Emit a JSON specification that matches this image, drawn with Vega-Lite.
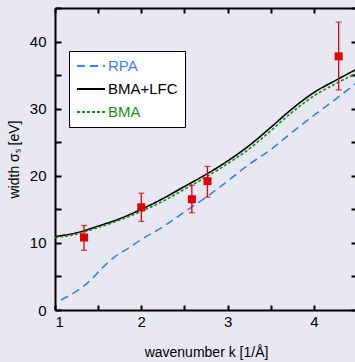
{
  "$schema": "https://vega.github.io/schema/vega-lite/v6.json",
  "autosize": "none",
  "width": 302,
  "height": 302,
  "padding": {"left": 55, "top": 8, "right": 0, "bottom": 52},
  "background": "#e8e8f2",
  "config": {
    "view": {"stroke": null, "fill": "#e8e8f2"},
    "font": "Liberation Sans",
    "axis": {
      "domainColor": "black", "domainWidth": 2,
      "grid": false, "labelFont": "Liberation Sans", "labelFontSize": 15, "labelColor": "black",
      "titleFont": "Liberation Sans", "titleFontSize": 14, "titleFontWeight": "normal", "titleColor": "black"
    }
  },
  "datasets": {
    "curves": [
      {"k": 1.0, "v": 10.95, "s": "BMA+LFC"}, {"k": 1.25, "v": 11.5, "s": "BMA+LFC"}, {"k": 1.5, "v": 12.5, "s": "BMA+LFC"},
      {"k": 1.75, "v": 13.6, "s": "BMA+LFC"}, {"k": 2.0, "v": 15.0, "s": "BMA+LFC"}, {"k": 2.25, "v": 16.6, "s": "BMA+LFC"},
      {"k": 2.5, "v": 18.4, "s": "BMA+LFC"}, {"k": 2.75, "v": 20.2, "s": "BMA+LFC"}, {"k": 3.0, "v": 22.2, "s": "BMA+LFC"},
      {"k": 3.25, "v": 24.5, "s": "BMA+LFC"}, {"k": 3.5, "v": 27.2, "s": "BMA+LFC"}, {"k": 3.75, "v": 30.0, "s": "BMA+LFC"},
      {"k": 4.0, "v": 32.4, "s": "BMA+LFC"}, {"k": 4.25, "v": 34.2, "s": "BMA+LFC"}, {"k": 4.5, "v": 35.9, "s": "BMA+LFC"},
      {"k": 1.0, "v": 10.8, "s": "BMA"}, {"k": 1.25, "v": 11.3, "s": "BMA"}, {"k": 1.5, "v": 12.3, "s": "BMA"},
      {"k": 1.75, "v": 13.4, "s": "BMA"}, {"k": 2.0, "v": 14.7, "s": "BMA"}, {"k": 2.25, "v": 16.2, "s": "BMA"},
      {"k": 2.5, "v": 18.0, "s": "BMA"}, {"k": 2.75, "v": 19.8, "s": "BMA"}, {"k": 3.0, "v": 21.8, "s": "BMA"},
      {"k": 3.25, "v": 24.0, "s": "BMA"}, {"k": 3.5, "v": 26.7, "s": "BMA"}, {"k": 3.75, "v": 29.5, "s": "BMA"},
      {"k": 4.0, "v": 31.9, "s": "BMA"}, {"k": 4.25, "v": 33.7, "s": "BMA"}, {"k": 4.5, "v": 35.3, "s": "BMA"},
      {"k": 1.07, "v": 1.5, "s": "RPA"}, {"k": 1.25, "v": 2.8, "s": "RPA"}, {"k": 1.4, "v": 4.3, "s": "RPA"},
      {"k": 1.55, "v": 6.3, "s": "RPA"}, {"k": 1.7, "v": 8.0, "s": "RPA"}, {"k": 1.8, "v": 8.8, "s": "RPA"},
      {"k": 2.0, "v": 10.5, "s": "RPA"}, {"k": 2.25, "v": 12.4, "s": "RPA"}, {"k": 2.5, "v": 14.6, "s": "RPA"},
      {"k": 2.75, "v": 16.8, "s": "RPA"}, {"k": 3.0, "v": 19.2, "s": "RPA"}, {"k": 3.25, "v": 21.7, "s": "RPA"},
      {"k": 3.5, "v": 23.9, "s": "RPA"}, {"k": 3.75, "v": 26.5, "s": "RPA"}, {"k": 4.0, "v": 29.0, "s": "RPA"},
      {"k": 4.25, "v": 31.4, "s": "RPA"}, {"k": 4.5, "v": 33.9, "s": "RPA"}
    ],
    "points": [
      {"k": 1.336, "v": 10.8, "lo": 8.9, "hi": 12.6},
      {"k": 2.0, "v": 15.3, "lo": 13.2, "hi": 17.4},
      {"k": 2.586, "v": 16.5, "lo": 14.5, "hi": 18.6},
      {"k": 2.767, "v": 19.2, "lo": 16.8, "hi": 21.4},
      {"k": 4.287, "v": 37.8, "lo": 32.8, "hi": 42.9}
    ]
  },
  "layer": [
    {
      "data": {"name": "curves"},
      "mark": {"type": "line", "strokeWidth": 1.6, "clip": true, "interpolate": "monotone"},
      "encoding": {
        "x": {"field": "k", "type": "quantitative", "scale": {"domain": [1, 4.5], "nice": false, "zero": false},
          "axis": {"orient": "bottom", "title": "wavenumber k [1/Å]", "values": [1, 1.5, 2, 2.5, 3, 3.5, 4, 4.5],
            "labelExpr": "datum.value % 1 === 0 ? '' + datum.value : ''",
            "ticks": true, "tickColor": "black", "tickWidth": 2, "tickSize": -5,
            "labelPadding": 9, "titlePadding": 16}},
        "y": {"field": "v", "type": "quantitative", "scale": {"domain": [0, 45], "nice": false},
          "axis": {"orient": "left", "title": "width σₛ [eV]", "values": [0, 5, 10, 15, 20, 25, 30, 35, 40, 45],
            "labelExpr": "datum.value % 10 === 0 && datum.value < 45 ? '' + datum.value : ''",
            "ticks": true, "tickColor": "black", "tickWidth": 2, "tickSize": -6,
            "labelPadding": 15, "titlePadding": 8}},
        "color": {"field": "s", "type": "nominal",
          "scale": {"domain": ["RPA", "BMA+LFC", "BMA"], "range": ["#3a7ff2", "#000000", "#1a8c1a"]},
          "legend": {"orient": "none", "legendX": 14, "legendY": 43, "title": null,
            "fillColor": "white", "strokeColor": "black", "padding": 7,
            "symbolType": "M-2,0H2", "symbolSize": 196, "symbolStrokeWidth": 2, "symbolOffset": 7,
            "labelFontSize": 15, "labelFont": "Liberation Sans", "labelOffset": 9, "rowPadding": 7,
            "encode": {"labels": {"update": {"fill": {"scale": "color", "field": "value"}}}}}},
        "strokeDash": {"field": "s", "type": "nominal",
          "scale": {"domain": ["RPA", "BMA+LFC", "BMA"], "range": [[8, 5], [1, 0], [3, 2]]}}
      }
    },
    {
      "data": {"name": "points"},
      "mark": {"type": "rule", "color": "#e00000", "strokeWidth": 1.3},
      "encoding": {
        "x": {"field": "k", "type": "quantitative", "scale": {"domain": [1, 4.5], "nice": false, "zero": false},
          "axis": {"orient": "top", "title": null, "labels": false, "values": [1, 1.5, 2, 2.5, 3, 3.5, 4, 4.5],
            "ticks": true, "tickColor": "black", "tickWidth": 2, "tickSize": -5}},
        "y": {"field": "lo", "type": "quantitative", "scale": {"domain": [0, 45], "nice": false},
          "axis": {"orient": "right", "title": null, "labels": false, "values": [0, 5, 10, 15, 20, 25, 30, 35, 40, 45],
            "ticks": true, "tickColor": "black", "tickWidth": 2, "tickSize": -6}},
        "y2": {"field": "hi"}
      }
    },
    {
      "data": {"name": "points"},
      "mark": {"type": "tick", "orient": "horizontal", "color": "#e00000", "size": 6, "thickness": 1.3},
      "encoding": {
        "x": {"field": "k", "type": "quantitative", "axis": null},
        "y": {"field": "lo", "type": "quantitative", "axis": null}
      }
    },
    {
      "data": {"name": "points"},
      "mark": {"type": "tick", "orient": "horizontal", "color": "#e00000", "size": 6, "thickness": 1.3},
      "encoding": {
        "x": {"field": "k", "type": "quantitative", "axis": null},
        "y": {"field": "hi", "type": "quantitative", "axis": null}
      }
    },
    {
      "data": {"name": "points"},
      "mark": {"type": "point", "shape": "square", "filled": true, "color": "#e00000", "size": 64, "opacity": 1},
      "encoding": {
        "x": {"field": "k", "type": "quantitative", "axis": null},
        "y": {"field": "v", "type": "quantitative", "axis": null}
      }
    }
  ],
  "resolve": {"axis": {"x": "independent", "y": "independent"}}
}
